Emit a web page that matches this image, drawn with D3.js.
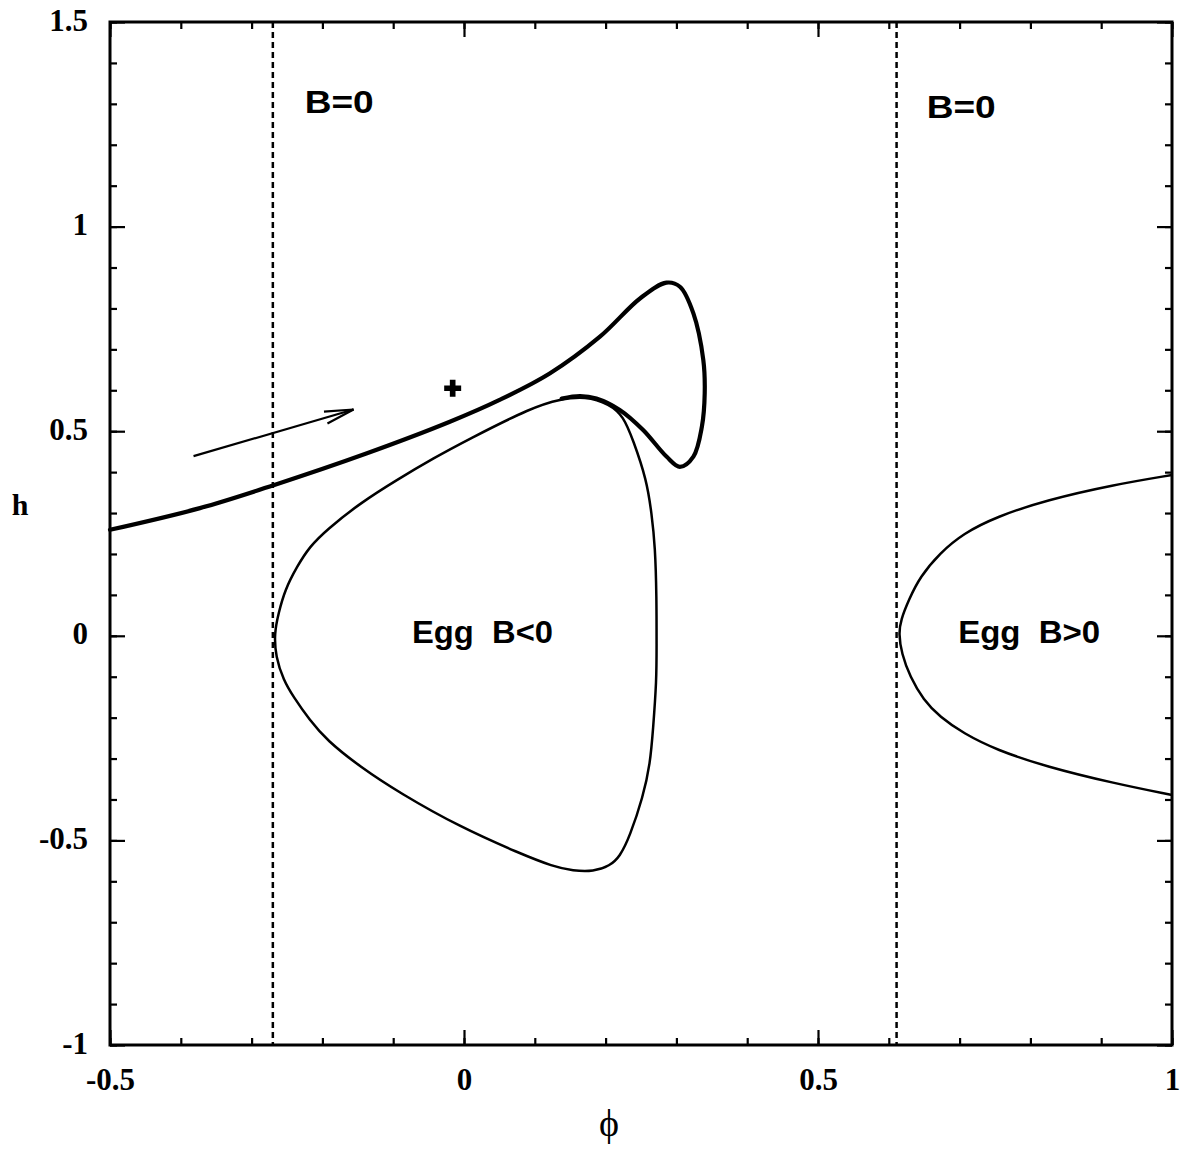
<!DOCTYPE html>
<html>
<head>
<meta charset="utf-8">
<script src="https://cdn.jsdelivr.net/npm/d3@7"></script>
<style>
  body { margin: 0; background: #fff; }
  svg { display: block; }
</style>
</head>
<body>
<svg id="chart" width="1187" height="1149"></svg>
<script>
// axis ticks
const xMajor = [-0.5, 0, 0.5, 1];
const yMajor = [-1, -0.5, 0, 0.5, 1, 1.5];
const xMinor = d3.range(-5, 11).map(i => i / 10);
const yMinor = d3.range(-10, 16).map(i => i / 10);

// B=0 boundaries (vertical dashed lines)
const bZero = [-0.270, 0.611];

// thick curve: phi, h
const thickPhi = [-0.5, -0.373, -0.269, -0.137, -0.020, 0.051, 0.121, 0.192, 0.249, 0.286, 0.305,
                  0.324, 0.338, 0.340, 0.336, 0.324, 0.305, 0.286, 0.253, 0.220, 0.187, 0.164, 0.138];
const thickH   = [0.259, 0.312, 0.368, 0.446, 0.523, 0.577, 0.641, 0.731, 0.825, 0.863, 0.853,
                  0.788, 0.674, 0.593, 0.511, 0.438, 0.413, 0.438, 0.503, 0.552, 0.580, 0.586, 0.580];

// egg B<0 (closed)
const eggNegPhi = [0.171, 0.136, 0.098, 0.004, -0.043, -0.093, -0.147, -0.194, -0.218, -0.236, -0.253, -0.262,
                   -0.268, -0.266, -0.255, -0.241, -0.218, -0.194, -0.147, -0.090, -0.006, 0.079, 0.126, 0.154,
                   0.183, 0.206, 0.220, 0.234, 0.253, 0.263, 0.267, 0.272, 0.272, 0.272, 0.270, 0.265,
                   0.258, 0.239, 0.225, 0.206];
const eggNegH   = [0.586, 0.578, 0.560, 0.478, 0.434, 0.383, 0.324, 0.259, 0.218, 0.169, 0.112, 0.055,
                   0.006, -0.051, -0.108, -0.149, -0.206, -0.255, -0.320, -0.385, -0.467, -0.532, -0.564, -0.574,
                   -0.576, -0.562, -0.540, -0.491, -0.393, -0.312, -0.230, -0.108, -0.027, 0.096, 0.218, 0.299,
                   0.381, 0.478, 0.537, 0.566];

// egg B>0 (open at the right edge)
const eggPosPhi = [1.0, 0.917, 0.823, 0.752, 0.705, 0.672, 0.644, 0.628, 0.617, 0.614, 0.618, 0.630,
                   0.649, 0.672, 0.705, 0.752, 0.823, 0.917, 1.0];
const eggPosH   = [0.393, 0.369, 0.332, 0.291, 0.250, 0.202, 0.144, 0.087, 0.039, 0.006, -0.043, -0.100,
                   -0.157, -0.198, -0.238, -0.279, -0.320, -0.360, -0.389];

// arrow and marker
const arrowPhi = [-0.382, -0.156];
const arrowH = [0.439, 0.553];
const plusPt = [-0.016, 0.605];

// text labels
const labels = [
  {text: "B=0", phi: -0.225, h: 1.277, len: 69},
  {text: "B=0", phi: 0.6535, h: 1.266, len: 69},
  {text: "Egg  B<0", phi: -0.0734, h: -0.017, len: 141},
  {text: "Egg  B>0", phi: 0.698, h: -0.017, len: 142}
];

const svg = d3.select('#chart');
const width = +svg.attr('width');
const height = +svg.attr('height');

const margin = {top: 22, right: 15, bottom: 104, left: 110};
const x = d3.scaleLinear().domain([-0.5, 1]).range([margin.left, width - margin.right]);
const y = d3.scaleLinear().domain([-1, 1.5]).range([height - margin.bottom, margin.top]);

const x0 = x.range()[0], x1 = x.range()[1];
const y0 = y.range()[1], y1 = y.range()[0];

// ticks on all four sides, pointing inward
const tickAxis = (axis, pos, values, size, labelled) => {
  const g = svg.append('g').attr('transform', pos)
    .call(axis.tickValues(values).tickSize(-size).tickFormat(labelled ? (d => String(d)) : ''));
  g.select('.domain').remove();
  g.selectAll('.tick line').attr('stroke', '#000').attr('stroke-width', 2.2);
  return g;
};

tickAxis(d3.axisBottom(x), `translate(0,${y1})`, xMinor, 7, false);
tickAxis(d3.axisTop(x), `translate(0,${y0})`, xMinor, 7, false);
tickAxis(d3.axisLeft(y), `translate(${x0},0)`, yMinor, 7, false);
tickAxis(d3.axisRight(y), `translate(${x1},0)`, yMinor, 7, false);
tickAxis(d3.axisTop(x), `translate(0,${y0})`, xMajor, 15, false);
tickAxis(d3.axisRight(y), `translate(${x1},0)`, yMajor, 15, false);

const gx = tickAxis(d3.axisBottom(x), `translate(0,${y1})`, xMajor, 15, true);
gx.selectAll('.tick text')
  .attr('y', 45).attr('dy', 0)
  .attr('font-family', '"Liberation Serif", "Times New Roman", serif')
  .attr('font-weight', 'bold').attr('font-size', 31).attr('fill', '#000');

const gy = tickAxis(d3.axisLeft(y), `translate(${x0},0)`, yMajor, 15, true);
gy.selectAll('.tick text')
  .attr('x', -22).attr('dy', '0.26em')
  .attr('font-family', '"Liberation Serif", "Times New Roman", serif')
  .attr('font-weight', 'bold').attr('font-size', 31).attr('fill', '#000');

// frame
svg.append('rect')
  .attr('x', x0).attr('y', y0)
  .attr('width', x1 - x0).attr('height', y1 - y0)
  .attr('fill', 'none').attr('stroke', '#000').attr('stroke-width', 3);

// B=0 dashed lines
svg.selectAll('.bzero')
  .data(bZero)
  .enter()
  .append('line')
  .attr('x1', d => x(d)).attr('x2', d => x(d))
  .attr('y1', y0).attr('y2', y1)
  .attr('stroke', '#000').attr('stroke-width', 2.5)
  .attr('stroke-dasharray', '6,4');

const zip = (a, b) => a.map((v, i) => [v, b[i]]);

const line = d3.line().x(d => x(d[0])).y(d => y(d[1])).curve(d3.curveCatmullRom.alpha(0.5));
const smoothLine = d3.line().x(d => x(d[0])).y(d => y(d[1])).curve(d3.curveBasis);
const closedLine = d3.line().x(d => x(d[0])).y(d => y(d[1])).curve(d3.curveBasisClosed);

svg.append('path')
  .attr('d', closedLine(zip(eggNegPhi, eggNegH)))
  .attr('fill', 'none').attr('stroke', '#000').attr('stroke-width', 2.5);

svg.append('path')
  .attr('d', smoothLine(zip(eggPosPhi, eggPosH)))
  .attr('fill', 'none').attr('stroke', '#000').attr('stroke-width', 2.5);

svg.append('path')
  .attr('d', line(zip(thickPhi, thickH)))
  .attr('fill', 'none').attr('stroke', '#000').attr('stroke-width', 4.2)
  .attr('stroke-linecap', 'round');

// arrow
svg.append('defs').append('marker')
  .attr('id', 'head')
  .attr('markerUnits', 'userSpaceOnUse')
  .attr('viewBox', '-32 -8 34 16')
  .attr('markerWidth', 34).attr('markerHeight', 16)
  .attr('refX', 0).attr('refY', 0)
  .attr('orient', 'auto')
  .append('path')
  .attr('d', 'M-29,-6.2L0,0L-29,6.2')
  .attr('fill', 'none').attr('stroke', '#000').attr('stroke-width', 2.2);

svg.append('line')
  .attr('x1', x(arrowPhi[0])).attr('y1', y(arrowH[0]))
  .attr('x2', x(arrowPhi[1])).attr('y2', y(arrowH[1]))
  .attr('stroke', '#000').attr('stroke-width', 2.2)
  .attr('marker-end', 'url(#head)');

svg.append('path')
  .attr('d', d3.symbol(d3.symbolCross, 160)())
  .attr('transform', `translate(${x(plusPt[0])},${y(plusPt[1])})`)
  .attr('fill', '#000');

// labels
svg.selectAll('.lbl')
  .data(labels)
  .enter()
  .append('text')
  .attr('x', d => x(d.phi)).attr('y', d => y(d.h))
  .attr('textLength', d => d.len)
  .attr('lengthAdjust', 'spacingAndGlyphs')
  .style('white-space', 'pre')
  .attr('font-family', '"Liberation Sans", Arial, sans-serif')
  .attr('font-weight', 'bold').attr('font-size', 31)
  .text(d => d.text);

// axis titles
svg.append('text')
  .attr('x', 609).attr('y', 1136)
  .attr('text-anchor', 'middle')
  .attr('font-family', '"Liberation Serif", "DejaVu Serif", serif')
  .attr('font-size', 38)
  .text('\u03d5');

svg.append('text')
  .attr('x', 20).attr('y', 515)
  .attr('text-anchor', 'middle')
  .attr('font-family', '"Liberation Serif", "Times New Roman", serif')
  .attr('font-weight', 'bold').attr('font-size', 30)
  .text('h');
</script>
</body>
</html>
